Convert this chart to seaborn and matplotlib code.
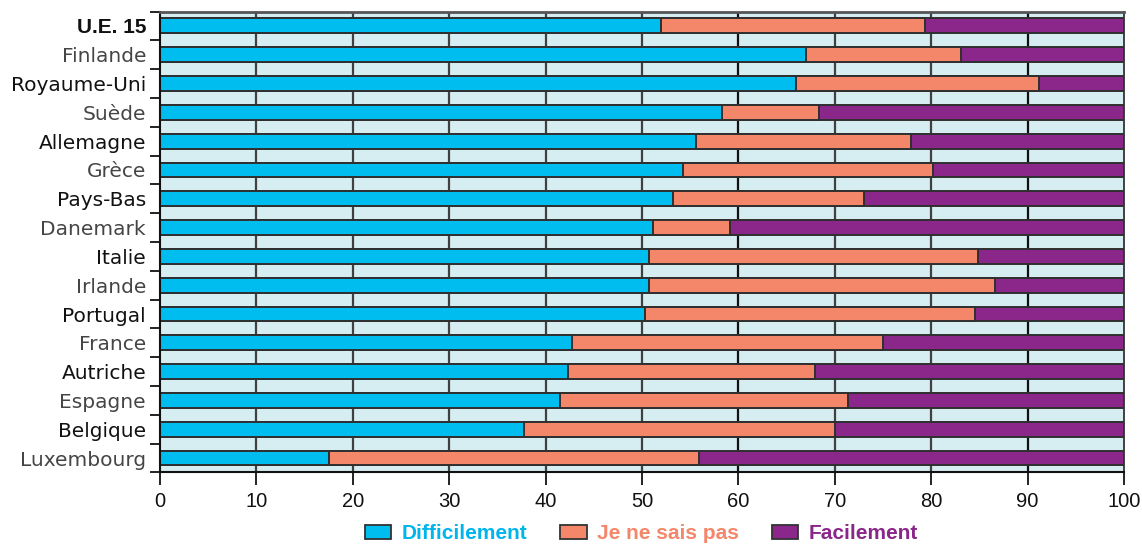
import matplotlib
matplotlib.use("Agg")
import matplotlib.pyplot as plt
from matplotlib.patches import Patch
from matplotlib.ticker import FixedLocator
import numpy as np
import pandas as pd
import seaborn as sns

pays = ["U.E. 15", "Finlande", "Royaume-Uni", "Suède", "Allemagne", "Grèce",
        "Pays-Bas", "Danemark", "Italie", "Irlande", "Portugal", "France",
        "Autriche", "Espagne", "Belgique", "Luxembourg"]
difficilement = [52.0, 67.0, 66.0, 58.3, 55.6, 54.3, 53.2, 51.1, 50.7, 50.7,
                 50.3, 42.7, 42.3, 41.5, 37.8, 17.5]
ne_sait_pas = [27.4, 16.1, 25.2, 10.1, 22.3, 25.9, 19.8, 8.0, 34.2, 35.9,
               34.2, 32.3, 25.7, 29.9, 32.2, 38.4]
facilement = [round(100 - d - n, 1) for d, n in zip(difficilement, ne_sait_pas)]
x_ticks = [0, 10, 20, 30, 40, 50, 60, 70, 80, 90, 100]

series = ["Difficilement", "Je ne sais pas", "Facilement"]
couleurs = ["#00bdf0", "#f4866a", "#8b268a"]
couleurs_texte = ["#00b4ec", "#f4866a", "#8b268a"]

df = pd.DataFrame({"pays": pays, "Difficilement": difficilement,
                   "Je ne sais pas": ne_sait_pas, "Facilement": facilement})
df["c1"] = df["Difficilement"]
df["c2"] = df["c1"] + df["Je ne sais pas"]
df["c3"] = df["c2"] + df["Facilement"]

sns.set_theme(style="white")
plt.rcParams["font.family"] = ["Liberation Sans", "DejaVu Sans"]

fig = plt.figure(figsize=(11.42, 5.44), dpi=100)
ax = fig.add_axes([0.1401, 0.1316, 0.8441, 0.8471])
ax.set_facecolor("#d6edf1")

# vertical grid behind the bars
for v in x_ticks[1:-1]:
    ax.axvline(v, color="#111111" if v in (60, 90) else "#404040",
               lw=1.6, zorder=0)

# stacked bars: draw cumulative totals from the widest down
for col, c in zip(["c3", "c2", "c1"], couleurs[::-1]):
    sns.barplot(data=df, x=col, y="pays", order=pays, color=c, orient="h",
                width=0.52, edgecolor="#2f2f2f", linewidth=1.4,
                saturation=1, ax=ax, zorder=2)

ax.set_xlim(0, 100)
ax.set_ylim(len(pays) - 0.5, -0.5)
ax.set_xlabel("")
ax.set_ylabel("")

ax.xaxis.set_major_locator(FixedLocator(x_ticks))
ax.set_xticklabels([str(v) for v in x_ticks], fontsize=14.5, color="#111111")
ax.tick_params(axis="x", bottom=True, length=9, width=1.3, color="#111111",
               pad=5)

ax.set_yticks(range(len(pays)))
ax.set_yticklabels(pays, fontsize=14.5, family=["DejaVu Sans"])
for i, lab in enumerate(ax.get_yticklabels()):
    if i == 0:
        lab.set_family(["Liberation Sans"])
        lab.set_fontweight("bold")
        lab.set_fontsize(15)
        lab.set_color("#111111")
    else:
        lab.set_color("#454545" if i % 2 == 1 else "#111111")
ax.tick_params(axis="y", left=False, length=0, pad=10)
ax.set_yticks(np.arange(-0.5, len(pays), 1.0), minor=True)
ax.tick_params(axis="y", which="minor", left=True, length=7, width=1.4,
               color="#222222")

for side in ["left", "bottom"]:
    ax.spines[side].set_color("#111111")
    ax.spines[side].set_linewidth(1.5)
ax.spines["right"].set_color("#333333")
ax.spines["right"].set_linewidth(1.3)
ax.spines["top"].set_color("#555555")
ax.spines["top"].set_linewidth(2.0)

handles = [Patch(facecolor=c, edgecolor="#333333", linewidth=1.3) for c in couleurs]
leg = fig.legend(handles, series, loc="center", bbox_to_anchor=(0.5617, 0.019),
                 ncol=3, frameon=False, handlelength=1.25, handleheight=0.68,
                 handletextpad=0.5, columnspacing=1.6, borderpad=0,
                 prop={"family": ["Liberation Sans"], "weight": "bold",
                       "size": 15})
for t, c in zip(leg.get_texts(), couleurs_texte):
    t.set_color(c)

fig.savefig("out.png", dpi=100)
